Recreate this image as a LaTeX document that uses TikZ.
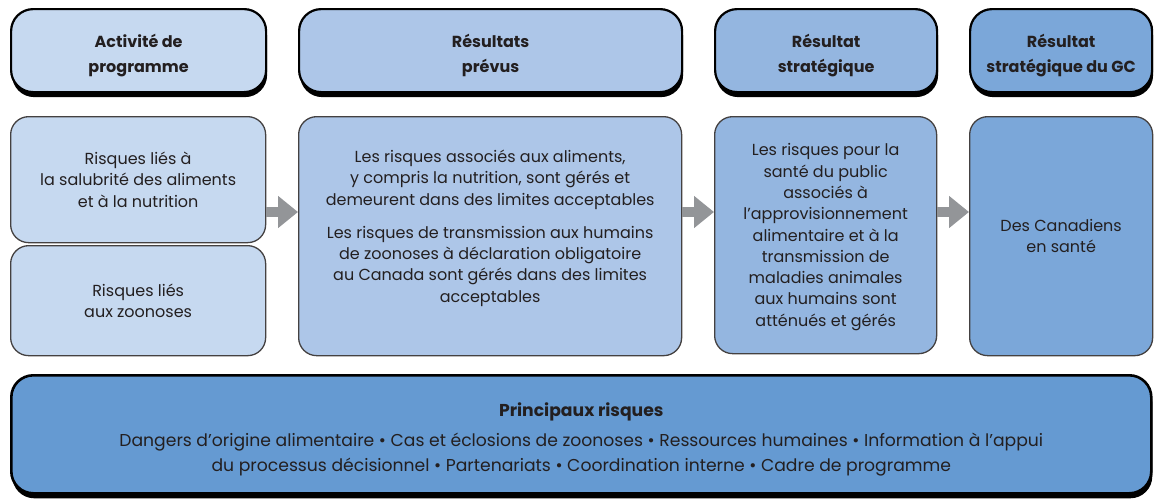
\documentclass[tikz,border=0pt]{standalone}
\usepackage{fontspec}
\setmainfont{Poppins}
\usetikzlibrary{arrows.meta,shadows}
\definecolor{ink}{HTML}{231F20}
\definecolor{blueA}{HTML}{C6D9F0}
\definecolor{blueB}{HTML}{ADC6E8}
\definecolor{blueC}{HTML}{94B6E0}
\definecolor{blueD}{HTML}{7BA7D9}
\definecolor{blueE}{HTML}{659AD2}
\definecolor{arrowgray}{HTML}{939598}
\tikzstyle{head}=[draw=black,line width=2.2pt,rounded corners=22pt,anchor=north west,
  inner sep=0pt,general shadow={fill=black,shadow xshift=1pt,shadow yshift=-5pt}]
\tikzstyle{title}=[align=center,text=ink,inner sep=0pt,font=\bfseries\fontsize{16}{25}\selectfont]
\tikzstyle{panel}=[draw=ink!85,line width=1.3pt,rounded corners=18pt,anchor=north west,
  inner sep=0pt,align=center,text=ink,font=\fontsize{16}{21.3}\selectfont]
\tikzstyle{body}=[align=center,text=ink,inner sep=0pt,font=\fontsize{16}{21.3}\selectfont]
\tikzstyle{arrow}=[-{Triangle[length=20pt,width=31pt]},line width=10pt,draw=arrowgray]

\begin{document}
\begin{tikzpicture}[x=1pt,y=-1pt]
	\useasboundingbox (0,0) rectangle (1154,499);

	%headers
	\node[head,fill=blueA,minimum width=255,minimum height=83] (hact) at (10,8) {};
	\node[head,fill=blueB,minimum width=383,minimum height=83] (hres) at (298,8) {};
	\node[head,fill=blueC,minimum width=222,minimum height=83] (hstrat) at (714,8) {};
	\node[head,fill=blueD,minimum width=182,minimum height=83] (hgc) at (969,8) {};
	\node[title] (tact) at ([yshift=-5pt]hact.center) {Activité de\\programme};
	\node[title] (tres) at ([yshift=-5pt]hres.center) {Résultats\\prévus};
	\node[title] (tstrat) at ([yshift=-5pt]hstrat.center) {Résultat\\stratégique};
	\node[title] (tgc) at ([yshift=-5pt]hgc.center) {Résultat\\stratégique du GC};

	%panels
	\node[panel,fill=blueA,minimum width=255,minimum height=126] (food) at (10,116)
		{Risques liés à\\la salubrité des aliments\\et à la nutrition};
	\node[panel,fill=blueA,minimum width=255,minimum height=110] (zoo) at (10,245)
		{Risques liés\\aux zoonoses};
	\node[panel,fill=blueB,minimum width=383,minimum height=239] (res) at (298,116) {};
	\node[body] (tres2) at ([yshift=8pt]res.center)
		{Les risques associés aux aliments,\\y compris la nutrition, sont gérés et\\demeurent dans des limites acceptables\\[12pt]
		Les risques de transmission aux humains\\de zoonoses à déclaration obligatoire\\au Canada sont gérés dans des limites\\acceptables};
	\node[panel,fill=blueC,minimum width=222,minimum height=237] (strat) at (714,116) {};
	\node[body] (tstrat2) at ([yshift=-2pt]strat.center)
		{Les risques pour la\\santé du public\\associés à\\l’approvisionnement\\alimentaire et à la\\transmission de\\maladies animales\\aux humains sont\\atténués et gérés};
	\node[panel,fill=blueD,minimum width=183,minimum height=239] (gc) at (969,116)
		{Des Canadiens\\en santé};

	%key risks
	\node[head,fill=blueE,line width=2.6pt,minimum width=1140,minimum height=118] (risk) at (10,374) {};
	\node[body,font=\fontsize{17.2}{25}\selectfont] (trisk) at ([yshift=-5pt]risk.center)
		{{\bfseries Principaux risques}\\[5pt]
		Dangers d’origine alimentaire • Cas et éclosions de zoonoses • Ressources humaines • Information à l’appui\\
		du processus décisionnel • Partenariats • Coordination interne • Cadre de programme};

	%arrows
	\coordinate (ay) at (0,212);
	\draw[arrow] (food.east |- ay) -- (res.west |- ay);
	\draw[arrow] (res.east |- ay) -- (strat.west |- ay);
	\draw[arrow] (strat.east |- ay) -- (gc.west |- ay);
\end{tikzpicture}
\end{document}
